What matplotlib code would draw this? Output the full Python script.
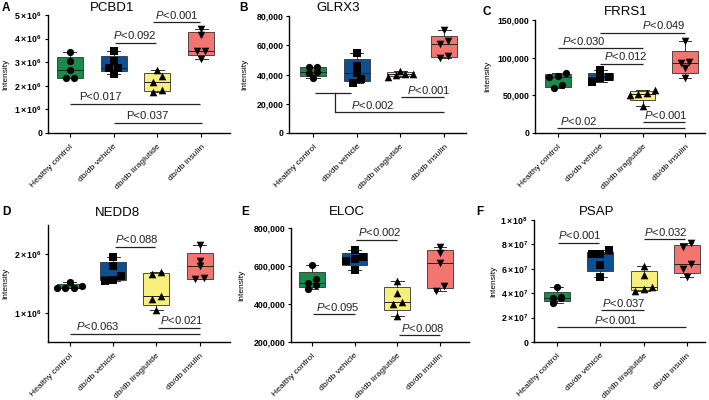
import matplotlib

matplotlib.use("Agg")
import matplotlib.pyplot as plt
import matplotlib.transforms as mtransforms
import numpy as np

plt.rcParams["font.family"] = ["Liberation Sans", "DejaVu Sans"]
plt.rcParams["mathtext.fontset"] = "custom"
plt.rcParams["mathtext.rm"] = "Liberation Sans"
plt.rcParams["mathtext.it"] = "Liberation Sans:italic"
plt.rcParams["mathtext.bf"] = "Liberation Sans:bold"

GROUPS = ["Healthy control", "db/db vehicle", "db/db liraglutide", "db/db insulin"]
COLORS = ["#1b8a4c", "#0e4f92", "#f6ef7b", "#f2756f"]
MARKERS = ["o", "s", "^", "v"]

# values, one list per group (HC, vehicle, liraglutide, insulin)
PCBD1 = [
    [3.42e6, 3.03e6, 2.68e6, 2.32e6, 2.32e6],
    [3.46e6, 3.03e6, 2.75e6, 2.75e6, 2.51e6],
    [2.65e6, 2.40e6, 2.18e6, 1.84e6, 1.72e6],
    [4.42e6, 4.15e6, 3.46e6, 3.46e6, 3.15e6],
]
GLRX3 = [
    [45200, 45000, 41400, 41000, 37300],
    [55000, 46000, 40700, 37000, 34500],
    [42300, 40500, 40200, 39600, 38600],
    [70500, 62700, 60900, 52600, 51000],
]
FRRS1 = [
    [80300, 76000, 74000, 63500, 59600],
    [83000, 76000, 74100, 72500, 67500],
    [56500, 53700, 52000, 51000, 36200],
    [122700, 94000, 93000, 86000, 72800],
]
NEDD8 = [
    [1.52e6, 1.46e6, 1.43e6, 1.42e6, 1.42e6],
    [1.95e6, 1.80e6, 1.63e6, 1.56e6, 1.55e6],
    [1.70e6, 1.66e6, 1.29e6, 1.23e6, 1.05e6],
    [2.15e6, 1.89e6, 1.80e6, 1.59e6, 1.57e6],
]
ELOC = [
    [604000, 530000, 508000, 502000, 478000],
    [682000, 650000, 637000, 628000, 578000],
    [523000, 460000, 412000, 398000, 337000],
    [700000, 666000, 615000, 495000, 469000],
]
PSAP = [
    [4.47e7, 3.65e7, 3.60e7, 3.57e7, 3.17e7],
    [7.55e7, 7.25e7, 7.20e7, 6.35e7, 5.30e7],
    [6.22e7, 5.50e7, 4.47e7, 4.35e7, 4.22e7],
    [8.15e7, 7.75e7, 6.38e7, 6.00e7, 5.30e7],
]

# significance bars: (from group, to group, height, label, label centre)
PCBD1_P = [
    (1.90, 2.98, 4.70e6, "$P$<0.001", 2.45),
    (1.03, 1.97, 3.82e6, "$P$<0.092", 1.49),
    (0.00, 2.98, 1.25e6, "P<0.017", 0.69),
    (1.00, 3.02, 0.44e6, "P<0.037", 1.76),
]
GLRX3_P = [
    (0.04, 0.86, 27300, "", 0.45),
    (0.50, 3.00, 14300, "$P$<0.002", 1.36),
    (2.01, 3.00, 24500, "$P$<0.001", 2.64),
]
GLRX3_LINKS = [((0.50, 0.50), (27300, 14300))]
FRRS1_P = [
    (1.00, 3.01, 133300, "$P$<0.049", 2.50),
    (0.00, 2.00, 112500, "$P$<0.030", 0.61),
    (1.00, 2.00, 91800, "$P$<0.012", 1.60),
    (-0.02, 3.01, 6600, "$P$<0.02", 0.50),
    (2.00, 3.01, 14100, "$P$<0.001", 2.54),
]
NEDD8_P = [
    (1.04, 1.98, 2.126e6, "$P$<0.088", 1.54),
    (0.00, 3.00, 0.64e6, "$P$<0.063", 0.65),
    (2.04, 3.00, 0.743e6, "$P$<0.021", 2.58),
]
ELOC_P = [
    (1.03, 1.99, 738000, "$P$<0.002", 1.59),
    (0.03, 1.02, 345000, "$P$<0.095", 0.60),
    (2.03, 3.00, 235000, "$P$<0.008", 2.59),
]
PSAP_P = [
    (0.02, 0.98, 8.14e7, "$P$<0.001", 0.54),
    (2.00, 2.96, 8.41e7, "$P$<0.032", 2.52),
    (1.02, 2.02, 2.60e7, "$P$<0.037", 1.54),
    (0.00, 2.98, 1.23e7, "$P$<0.001", 1.35),
]

W, H = 709, 400

PANELS = [
    dict(letter="A", title="PCBD1", data=PCBD1, bars=PCBD1_P, links=[],
         box=(48, 15, 230, 133), xlim=(-0.5, 3.66), ylim=(0, 5e6), step=1e6, fmt="sci",
         title_xy=(112, 8), letter_xy=(2, 8), ylab=-0.214),
    dict(letter="B", title="GLRX3", data=GLRX3, bars=GLRX3_P, links=GLRX3_LINKS,
         box=(289, 16, 466, 133), xlim=(-0.55, 3.5), ylim=(0, 80000), step=20000, fmt="comma",
         title_xy=(338, 8), letter_xy=(239, 8), ylab=-0.232),
    dict(letter="C", title="FRRS1", data=FRRS1, bars=FRRS1_P, links=[],
         box=(535, 20, 705, 133), xlim=(-0.54, 3.47), ylim=(0, 150000), step=50000, fmt="comma",
         title_xy=(626, 12), letter_xy=(482, 12), ylab=-0.259),
    dict(letter="D", title="NEDD8", data=NEDD8, bars=NEDD8_P, links=[],
         box=(48, 225, 230, 342), xlim=(-0.5, 3.7), ylim=(0.5e6, 2.5e6), step=1e6, fmt="sci",
         title_xy=(117, 213), letter_xy=(2, 212), ylab=-0.214),
    dict(letter="E", title="ELOC", data=ELOC, bars=ELOC_P, links=[],
         box=(291, 228, 469, 342), xlim=(-0.49, 3.68), ylim=(200000, 800000), step=200000, fmt="comma",
         title_xy=(347, 212), letter_xy=(241, 212), ylab=-0.258),
    dict(letter="F", title="PSAP", data=PSAP, bars=PSAP_P, links=[],
         box=(534, 220, 705, 342), xlim=(-0.53, 3.42), ylim=(0, 1e8), step=2e7, fmt="sci",
         title_xy=(597, 212), letter_xy=(476, 212), ylab=-0.216),
]


def tick_text(v, style):
    if v == 0:
        return "0"
    if style == "comma":
        return f"{int(round(v)):,}"
    exp = int(np.floor(np.log10(v) + 1e-9))
    mant = v / 10**exp
    return rf"$\mathbf{{{mant:.0f}\times10^{{{exp}}}}}$"


def swarm_offsets(ax, values, dot_px=6.5):
    # spread points that sit at about the same height, like a scatter dot plot
    bbox = ax.get_window_extent()
    x0, x1 = ax.get_xlim()
    y0, y1 = ax.get_ylim()
    px_x = bbox.width / (x1 - x0)
    px_y = bbox.height / (y1 - y0)
    values = np.asarray(values)
    rows = []
    for i in np.argsort(values):
        if rows and (values[i] - values[rows[-1][0]]) * px_y < dot_px * 0.8:
            rows[-1].append(i)
        else:
            rows.append([i])
    offsets = np.zeros(len(values))
    for row in rows:
        n = len(row)
        for k, i in enumerate(row):
            offsets[i] = (k - (n - 1) / 2) * dot_px * 1.3 / px_x
    return offsets


def draw_panel(fig, p):
    left, top, right, bottom = p["box"]
    ax = fig.add_axes([left / W, 1 - bottom / H, (right - left) / W, (bottom - top) / H])
    ax.set_xlim(*p["xlim"])
    ax.set_ylim(*p["ylim"])

    stats = []
    for vals in p["data"]:
        q1, med, q3 = np.percentile(vals, [25, 50, 75], method="weibull")
        stats.append(dict(med=med, q1=q1, q3=q3, whislo=min(vals), whishi=max(vals), fliers=[]))
    bp = ax.bxp(stats, positions=range(4), widths=0.6, capwidths=0.3, patch_artist=True,
                showfliers=False, manage_ticks=False,
                boxprops=dict(linewidth=0.6, edgecolor="#333333"),
                medianprops=dict(color="#222222", linewidth=0.7),
                whiskerprops=dict(color="#333333", linewidth=0.7),
                capprops=dict(color="#333333", linewidth=0.7))
    for patch, color in zip(bp["boxes"], COLORS):
        patch.set_facecolor(color)

    for i, (vals, marker) in enumerate(zip(p["data"], MARKERS)):
        xs = i + swarm_offsets(ax, vals)
        ax.scatter(xs, vals, marker=marker, s=30 if marker != "o" else 27, color="black",
                   zorder=3, linewidths=0)

    for x1, x2, y, label, tx in p["bars"]:
        ax.plot([x1, x2], [y, y], color="#222222", lw=0.9, solid_capstyle="butt", clip_on=False)
        if label:
            ax.annotate(label, (tx, y), xytext=(0, 1.0), textcoords="offset points",
                        ha="center", va="bottom", fontsize=8.1, color="#222222")
    for xs, ys in p["links"]:
        ax.plot(xs, ys, color="#222222", lw=0.9, clip_on=False)

    yticks = np.arange(np.ceil(p["ylim"][0] / p["step"]) * p["step"], p["ylim"][1] + 1, p["step"])
    ax.set_yticks(yticks)
    ax.set_yticklabels([tick_text(v, p["fmt"]) for v in yticks], fontsize=6.3, fontweight="bold")
    ax.set_xticks(range(4))
    ax.set_xticklabels(GROUPS, rotation=45, ha="right", va="top", rotation_mode="anchor",
                       fontsize=6.1)
    shift = mtransforms.ScaledTranslation(3 / 100, 0, fig.dpi_scale_trans)
    for lab in ax.get_xticklabels():
        lab.set_transform(lab.get_transform() + shift)
    ax.set_ylabel("Intensity", fontsize=6)
    ax.yaxis.set_label_coords(p["ylab"], 0.5)

    for side in ("top", "right"):
        ax.spines[side].set_visible(False)
    for side in ("left", "bottom"):
        ax.spines[side].set_linewidth(1.0)
    ax.tick_params(direction="out", width=0.8)
    ax.tick_params(axis="y", length=2.5, pad=1.5)
    ax.tick_params(axis="x", length=3, pad=4.3)

    tx, ty = p["title_xy"]
    fig.text(tx / W, 1 - ty / H, p["title"], ha="center", va="center", fontsize=9.5)
    lx, ly = p["letter_xy"]
    fig.text(lx / W, 1 - ly / H, p["letter"], ha="left", va="center", fontsize=8.5, fontweight="bold")


def main():
    fig = plt.figure(figsize=(W / 100, H / 100), dpi=100)
    for p in PANELS:
        draw_panel(fig, p)
    fig.savefig("out.png", dpi=100)
    plt.close(fig)


if __name__ == "__main__":
    main()
